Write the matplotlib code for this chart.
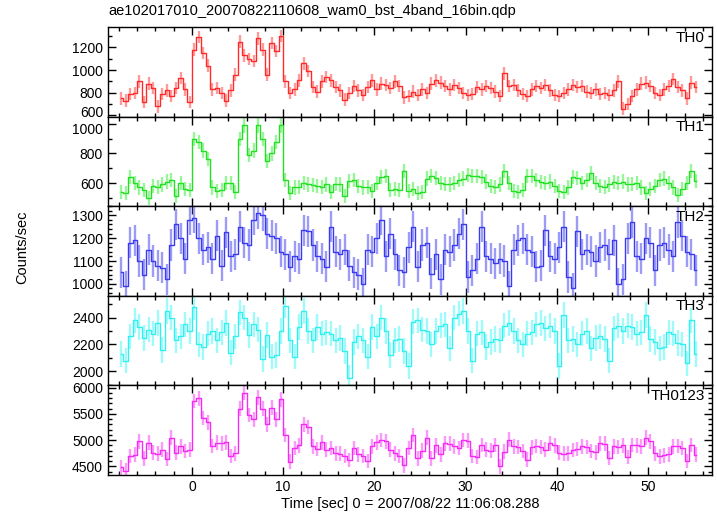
"""
WAM light curve (4 band + sum) re-drawn from a qdp plot
"""
import numpy as np
import matplotlib
matplotlib.use("Agg")
import matplotlib.pyplot as plt
import matplotlib.transforms as mtrans
from matplotlib.ticker import MultipleLocator

plt.rcParams["font.family"] = ["Liberation Sans", "DejaVu Sans"]

# ── data (0.5 s bins, counts/sec) ──
t_first = -7.75
bin_width = 0.5

th0 = [750, 730, 790, 800, 900, 720, 880, 840, 680, 790, 820, 770, 840, 930, 830, 720,
       1180, 1290, 1150, 1040, 830, 840, 800, 730, 820, 960, 1250, 1130, 1100, 1080, 1280, 1180,
       960, 1240, 1170, 1300, 900, 800, 830, 910, 1060, 990, 850, 810, 900, 940, 910, 850,
       820, 740, 800, 860, 820, 780, 850, 910, 830, 880, 870, 840, 900, 860, 760, 770,
       810, 780, 830, 800, 880, 910, 890, 860, 830, 870, 840, 800, 780, 790, 850, 830,
       860, 840, 810, 770, 970, 860, 870, 820, 790, 770, 830, 860, 840, 870, 820, 780,
       770, 800, 830, 870, 850, 860, 810, 800, 830, 790, 800, 780, 820, 900, 660, 700,
       770, 830, 880, 890, 860, 800, 780, 830, 860, 920, 850, 820, 750, 890, 850]

th1 = [540, 530, 640, 600, 570, 555, 500, 580, 575, 590, 610, 620, 510, 600, 560, 555,
       900, 880, 820, 760, 570, 545, 550, 600, 600, 540, 900, 990, 790, 820, 990, 900,
       750, 800, 880, 990, 620, 530, 570, 575, 600, 590, 585, 580, 575, 590, 540, 595,
       590, 510, 615, 620, 580, 570, 575, 545, 600, 640, 645, 550, 560, 550, 680, 545,
       560, 535, 540, 630, 645, 635, 600, 595, 590, 600, 620, 630, 655, 650, 645, 640,
       610, 580, 575, 590, 680, 600, 545, 540, 550, 645, 650, 620, 605, 600, 610, 580,
       545, 540, 570, 640, 635, 600, 620, 670, 600, 580, 575, 590, 605, 600, 610, 590,
       595, 600, 570, 535, 560, 580, 620, 630, 600, 570, 520, 560, 600, 680, 615]

th2 = [1050, 990, 1180, 1190, 1100, 1040, 1150, 1100, 1080, 1070, 1020, 1170, 1260, 1200, 1110, 1280,
       1290, 1200, 1150, 1160, 1110, 1210, 1080, 1225, 1120, 1130, 1250, 1180, 1170, 1280, 1310, 1300,
       1220, 1210, 1200, 1140, 1130, 1075, 1120, 1110, 1235, 1230, 1170, 1120, 1110, 1075, 1250, 1140,
       1130, 1150, 1080, 1050, 1040, 1000, 1150, 1140, 1200, 1280, 1120, 1220, 1130, 1060, 1050, 1160,
       1250, 1075, 1170, 1180, 1045, 1130, 1020, 1150, 1140, 1170, 1220, 1260, 1030, 1060, 1110, 1250,
       1120, 1110, 1090, 1110, 1100, 990, 1150, 1190, 1200, 1150, 1140, 1075, 1080, 1235, 1120, 1110,
       1160, 1250, 1030, 980, 1230, 1130, 1150, 1140, 1100, 1160, 1170, 1130, 1190, 1000, 1020, 1200,
       1270, 1120, 1110, 1200, 1180, 1060, 1170, 1180, 1150, 1120, 1270, 1210, 1140, 1130, 1060]

th3 = [2130, 2080, 2260, 2380, 2330, 2250, 2310, 2280, 2360, 2160, 2450, 2400, 2230, 2260, 2350, 2300,
       2480, 2200, 2180, 2280, 2300, 2230, 2290, 2360, 2140, 2260, 2440, 2400, 2270, 2350, 2310, 2090,
       2270, 2110, 2120, 2300, 2490, 2230, 2110, 2330, 2450, 2300, 2230, 2330, 2280, 2290, 2280, 2230,
       2250, 2150, 1950, 2220, 2260, 2230, 2110, 2330, 2260, 2400, 2300, 2120, 2230, 2240, 2150, 2040,
       2370, 2380, 2310, 2300, 2200, 2300, 2340, 2350, 2170, 2400, 2430, 2450, 2300, 2080, 2280, 2290,
       2180, 2220, 2240, 2230, 2340, 2360, 2300, 2230, 2200, 2280, 2290, 2350, 2360, 2320, 2340, 2300,
       2040, 2420, 2230, 2240, 2200, 2280, 2300, 2170, 2250, 2260, 2240, 2080, 2320, 2340, 2300, 2340,
       2330, 2280, 2290, 2420, 2240, 2220, 2170, 2180, 2290, 2280, 2210, 2200, 2060, 2380, 2130]

th0123 = [4480, 4420, 4700, 4720, 4980, 4650, 4950, 4760, 4740, 4820, 4640, 5050, 4760, 4880, 4790, 4820,
          5750, 5800, 5420, 5340, 4890, 4950, 4940, 4960, 4700, 4750, 5600, 5900, 5480, 5400, 5820, 5600,
          5300, 5620, 5400, 5780, 5100, 4590, 4850, 4900, 5300, 5250, 4880, 4830, 4960, 4820, 4850, 4750,
          4740, 4700, 4620, 4850, 4730, 4700, 4600, 4880, 4960, 5000, 4980, 4820, 4750, 4700, 4520, 4850,
          5100, 4650, 4800, 5050, 4650, 4900, 4730, 4940, 4930, 4880, 4850, 5000, 4990, 4700, 4680, 4910,
          4820, 4800, 4910, 4500, 4780, 5010, 4880, 4870, 4790, 4630, 4860, 4890, 4870, 4820, 4940, 4900,
          4760, 4740, 4750, 4810, 4830, 4880, 4870, 4790, 4770, 4940, 4930, 4660, 4880, 4870, 4900, 4680,
          4910, 4900, 4880, 5050, 4980, 4750, 4690, 4710, 4730, 4880, 4890, 4850, 4600, 4910, 4720]

# 1-sigma half length of the error bars, per band
errs = [55, 48, 68, 95, 140]

names = ["TH0", "TH1", "TH2", "TH3", "TH0123"]
series = [th0, th1, th2, th3, th0123]

# ── style per panel ──
line_cols = ["#ff2a2a", "#22e022", "#3a3af0", "#33f0f0", "#f52af5"]
bar_cols = ["#ff9a9a", "#99f599", "#9c9cf7", "#a0fafa", "#fa9afa"]
ylims = [(590, 1380), (443, 1050), (948, 1340), (1895, 2563), (4335, 6045)]
ymajor = [200, 200, 100, 200, 500]
yminor = [100, 100, 20, 100, 100]

fig = plt.figure(figsize=(7.17, 5.16), dpi=100, facecolor="white")
left, right, bottom, top = 0.1506, 0.993, 0.0795, 0.9477
h = (top - bottom) / 5

axes = []
for i, (name, vals) in enumerate(zip(names, series)):
    ax = fig.add_axes([left, top - (i + 1) * h, right - left, h])
    vals = np.asarray(vals, dtype=float)
    t = t_first + bin_width * np.arange(len(vals))

    ax.errorbar(t, vals, yerr=errs[i], fmt="none", ecolor=bar_cols[i], elinewidth=1.7, zorder=2)
    ax.plot(t, vals, drawstyle="steps-mid", color=line_cols[i], lw=1.0, zorder=3)

    ax.set_xlim(-9.2, 57)
    ax.set_ylim(*ylims[i])
    ax.xaxis.set_major_locator(MultipleLocator(10))
    ax.xaxis.set_minor_locator(MultipleLocator(2))
    ax.yaxis.set_major_locator(MultipleLocator(ymajor[i]))
    ax.yaxis.set_minor_locator(MultipleLocator(yminor[i]))
    ax.tick_params(which="both", direction="in", top=True, right=True, labelsize=10, width=1)
    ax.tick_params(which="major", length=6)
    ax.tick_params(which="minor", length=3)
    for sp in ax.spines.values():
        sp.set_linewidth(1.0)
    if i < 4:
        ax.tick_params(labelbottom=False)

    ax.text(0.988, 0.96, name, transform=ax.transAxes, ha="right", va="top", fontsize=11)
    axes.append(ax)

# ── 경계 부근 눈금 글자 겹침 살짝 벌리기 (TH0 600 / TH1 1000) ──
fig.canvas.draw()
for lab in axes[0].get_yticklabels():
    if lab.get_text() == "600":
        lab.set_transform(lab.get_transform() + mtrans.ScaledTranslation(0, 3 / 72, fig.dpi_scale_trans))
for lab in axes[1].get_yticklabels():
    if lab.get_text() == "1000":
        lab.set_transform(lab.get_transform() + mtrans.ScaledTranslation(0, -3 / 72, fig.dpi_scale_trans))

axes[-1].set_xlabel("Time [sec] 0 = 2007/08/22 11:06:08.288", fontsize=10.5, labelpad=2)
fig.text(0.031, 0.52, "Counts/sec", rotation=90, ha="center", va="center", fontsize=10.5)
fig.text(left, 0.965, "ae102017010_20070822110608_wam0_bst_4band_16bin.qdp", ha="left", va="bottom", fontsize=10.5)

fig.savefig("out.png", dpi=100, facecolor="white")
